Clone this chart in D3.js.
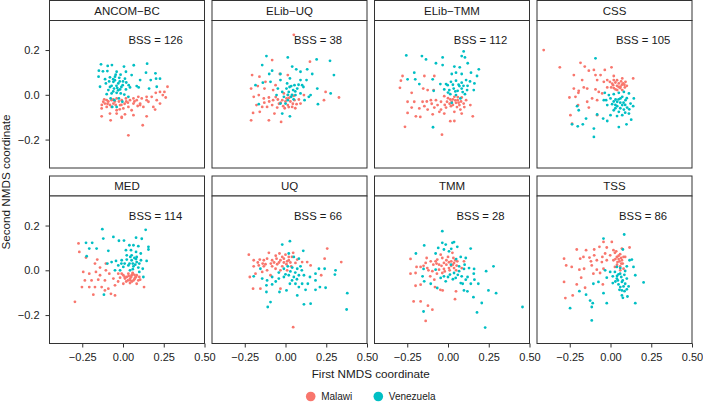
<!DOCTYPE html>
<html><head><meta charset="utf-8">
<script src="https://cdn.jsdelivr.net/npm/d3@7"></script>
<style>body{margin:0;background:#fff}svg{display:block;font-family:"Liberation Sans",Arial,sans-serif}</style>
</head><body><svg id="c" width="703" height="402"></svg>
<script>
const methods = ["ANCOM\u2212BC","ELib\u2212UQ","ELib\u2212TMM","CSS","MED","UQ","TMM","TSS"];
const bss = [126, 38, 112, 105, 114, 66, 28, 86];
const xTicks = [-0.25, 0, 0.25, 0.5];
const xTickLabels = ["\u22120.25","0.00","0.25","0.50"];
const yTicks = [-0.2, 0, 0.2];
const yTickLabels = ["\u22120.2","0.0","0.2"];
const groups = ["Malawi","Venezuela"];

const malawi_ANCOMBC = [[0.273,0.036],[0.254,0.013],[0.227,0.013],[0.201,0.009],[0.176,-0.009],[0.145,-0.009],[0.115,-0.016],[0.094,-0.009],[0.064,-0.016],[0.043,-0.024],[0.018,-0.016],[-0.008,-0.024],[-0.039,-0.016],[-0.07,-0.024],[-0.1,-0.024],[-0.121,-0.031],[-0.131,-0.061],[-0.1,-0.054],[-0.07,-0.054],[-0.039,-0.069],[0.002,-0.061],[0.033,-0.054],[0.064,-0.039],[0.105,-0.039],[0.145,-0.024],[0.186,-0.054],[0.227,-0.039],[0.262,-0.012],[0.197,-0.066],[0.156,-0.031],[-0.08,-0.084],[-0.039,-0.084],[-0.008,-0.099],[0.012,-0.087],[0.064,-0.091],[0.121,-0.136],[0.145,-0.096],[-0.131,-0.096],[-0.076,-0.114],[-0.008,-0.103],[0.033,-0.181],[0.105,-0.046],[0.084,-0.024],[0.053,-0.069],[-0.018,-0.046],[-0.059,-0.039],[-0.111,-0.039],[0.125,-0.054],[0.207,-0.024],[0.244,-0.001],[-0.09,-0.03],[-0.05,-0.03],[-0.08,-0.045],[0.02,-0.03],[-0.115,-0.02],[-0.095,-0.04],[-0.06,-0.02],[-0.045,-0.045],[-0.025,-0.03],[-0.01,-0.045],[0.01,-0.04],[0.03,-0.035],[-0.13,-0.045],[-0.02,-0.065],[0.07,-0.03],[0.09,-0.05]];
const venezuela_ANCOMBC = [[-0.135,0.136],[-0.094,0.129],[-0.068,0.133],[0.006,0.126],[0.066,0.132],[0.148,0.139],[-0.148,0.108],[-0.123,0.105],[-0.096,0.106],[-0.039,0.103],[0.018,0.103],[0.053,0.088],[0.199,0.096],[0.141,0.099],[-0.15,0.081],[-0.08,0.078],[-0.049,0.081],[-0.023,0.076],[0.012,0.072],[0.105,0.066],[0.17,0.066],[0.203,0.072],[0.227,0.072],[-0.141,0.036],[-0.105,0.051],[-0.059,0.058],[-0.029,0.051],[-0.002,0.043],[0.035,0.043],[0.084,0.039],[-0.09,0.021],[-0.055,0.028],[-0.018,0.024],[0.018,0.024],[0.043,0.033],[-0.1,0.003],[-0.07,0.006],[-0.039,0.009],[-0.014,0.006],[0.008,0.001],[0.033,-0.009],[0.096,0.033],[0.207,0.036],[0.16,0.028],[-0.076,-0.016],[-0.053,-0.024],[-0.025,-0.016],[-0.004,-0.031],[-0.039,-0.054],[-0.066,-0.054],[-0.06,0.07],[-0.04,0.04],[-0.02,0.06],[-0.07,0.04],[-0.03,0.02],[0.0,0.06],[-0.085,0.06],[-0.05,0.065],[-0.035,0.03],[-0.06,0.015],[-0.01,0.035],[-0.045,0.09],[-0.015,0.09],[-0.11,0.07],[0.02,0.055],[-0.08,0.035]];

const malawi_ELibUQ = [[0.051,0.268],[-0.082,0.155],[0.15,0.148],[-0.205,0.088],[-0.16,0.081],[-0.035,0.093],[0.014,0.088],[-0.211,0.028],[-0.17,0.039],[-0.129,0.028],[-0.076,0.021],[0.246,0.013],[0.328,-0.012],[-0.195,-0.009],[-0.164,-0.001],[-0.133,-0.016],[-0.102,-0.012],[-0.076,-0.024],[-0.047,-0.021],[-0.02,-0.024],[0.006,-0.016],[0.031,-0.009],[0.055,-0.024],[0.082,-0.021],[0.113,-0.001],[0.236,-0.024],[-0.178,-0.046],[-0.143,-0.054],[-0.113,-0.054],[-0.082,-0.046],[-0.051,-0.057],[-0.014,-0.051],[0.014,-0.046],[0.041,-0.054],[0.068,-0.042],[-0.199,-0.081],[-0.158,-0.076],[-0.068,-0.084],[-0.211,-0.114],[-0.102,-0.114],[-0.027,-0.121],[-0.123,0.058],[-0.061,0.043],[-0.01,0.006],[0.014,-0.001],[0.092,-0.039],[0.03,-0.03],[-0.03,-0.035],[0.05,-0.005],[-0.04,-0.04],[0.0,-0.03],[0.02,-0.055],[0.045,-0.04],[-0.06,-0.01],[-0.1,-0.03],[-0.13,-0.035],[0.06,-0.06],[-0.005,-0.06],[0.02,-0.015]];
const venezuela_ELibUQ = [[-0.117,0.173],[0.014,0.167],[0.191,0.158],[0.273,0.152],[-0.143,0.133],[-0.082,0.108],[0.041,0.126],[0.066,0.114],[0.133,0.114],[-0.1,0.093],[-0.031,0.093],[0.092,0.103],[0.164,0.093],[0.297,0.088],[-0.184,0.043],[-0.139,0.054],[-0.092,0.058],[-0.031,0.066],[0.027,0.073],[0.035,0.039],[0.055,0.043],[0.092,0.066],[0.129,0.066],[0.195,0.028],[0.277,0.006],[0.154,-0.001],[-0.055,-0.001],[-0.02,0.013],[0.006,0.028],[0.02,0.013],[0.047,0.021],[0.072,0.028],[0.092,0.006],[0.117,-0.024],[0.143,-0.009],[-0.01,-0.009],[0.014,-0.024],[0.035,-0.009],[0.061,-0.001],[-0.031,-0.039],[0.0,-0.039],[-0.02,-0.084],[0.027,-0.096],[0.199,-0.042],[-0.164,-0.042],[-0.047,0.028],[0.102,0.043],[0.01,0.051],[0.04,0.0],[0.06,0.015],[0.025,0.035],[0.08,0.045],[0.05,-0.02],[0.015,0.0],[0.11,0.035]];

const malawi_ELibTMM = [[-0.279,0.084],[-0.289,0.063],[-0.295,0.031],[-0.145,0.084],[-0.084,0.084],[-0.223,0.009],[-0.152,0.028],[-0.125,0.021],[-0.088,0.021],[-0.023,-0.006],[0.039,-0.009],[0.059,-0.024],[0.084,-0.012],[0.111,-0.024],[-0.248,-0.031],[-0.207,-0.031],[-0.156,-0.031],[-0.105,-0.024],[-0.074,-0.024],[-0.043,-0.031],[-0.006,-0.031],[0.023,-0.031],[0.049,-0.036],[0.096,-0.039],[0.137,-0.046],[-0.223,-0.057],[-0.176,-0.061],[-0.125,-0.066],[-0.084,-0.057],[-0.043,-0.066],[-0.012,-0.057],[0.018,-0.051],[0.076,-0.066],[-0.248,-0.081],[-0.197,-0.096],[-0.17,-0.099],[-0.094,-0.087],[-0.053,-0.076],[-0.023,-0.084],[0.039,-0.076],[0.084,-0.084],[0.152,-0.096],[0.014,-0.118],[0.039,-0.117],[-0.264,-0.143],[-0.037,-0.178],[-0.145,-0.051],[-0.064,-0.046],[0.014,-0.021],[0.07,-0.046],[0.03,-0.02],[0.06,-0.01],[0.0,-0.015],[0.01,-0.04],[0.045,-0.025],[0.065,-0.035],[0.08,-0.03],[0.03,-0.045],[-0.02,-0.045],[0.1,-0.055],[0.055,-0.055],[-0.1,-0.04],[-0.13,-0.03]];
const venezuela_ELibTMM = [[-0.256,0.176],[-0.16,0.173],[-0.135,0.158],[-0.033,0.167],[0.096,0.194],[0.084,0.173],[0.104,0.167],[-0.074,0.141],[-0.033,0.133],[0.039,0.126],[0.072,0.123],[0.121,0.141],[0.189,0.114],[-0.207,0.099],[-0.248,0.069],[-0.201,0.069],[-0.094,0.069],[0.023,0.093],[0.049,0.099],[0.084,0.093],[0.141,0.099],[0.178,0.084],[-0.176,0.048],[-0.047,0.048],[-0.012,0.048],[0.018,0.058],[0.049,0.063],[0.084,0.054],[0.111,0.066],[0.162,0.051],[-0.023,0.024],[0.008,0.021],[0.035,0.028],[0.059,0.018],[0.084,0.028],[0.117,0.021],[0.158,0.021],[0.014,0.003],[0.049,-0.001],[0.104,0.003],[0.023,-0.036],[0.076,-0.016],[-0.092,-0.145],[-0.088,0.018],[-0.002,0.043],[0.07,0.039],[0.03,0.045],[0.065,0.045],[0.095,0.04],[0.045,0.015],[0.09,0.012],[0.12,0.04],[0.135,0.06],[0.0,0.01]];

const malawi_CSS = [[-0.41,0.2],[-0.311,0.123],[-0.184,0.143],[-0.158,0.126],[-0.133,0.108],[-0.035,0.111],[0.006,0.123],[-0.225,0.088],[-0.174,0.066],[-0.092,0.088],[-0.061,0.088],[-0.082,0.066],[0.139,0.073],[-0.004,0.058],[0.02,0.066],[0.072,0.073],[0.092,0.058],[-0.225,0.028],[-0.195,0.018],[-0.164,0.033],[-0.143,0.028],[-0.092,0.024],[-0.072,0.013],[-0.02,0.033],[0.004,0.033],[0.031,0.024],[0.061,0.036],[0.088,0.033],[0.016,0.043],[0.051,0.051],[-0.252,-0.012],[-0.215,-0.009],[-0.197,0.009],[-0.113,-0.016],[-0.082,-0.024],[-0.051,0.006],[-0.143,-0.031],[-0.199,-0.046],[-0.133,-0.057],[-0.246,-0.091],[-0.236,-0.129],[-0.082,-0.091],[0.041,0.021],[0.072,0.021],[-0.02,0.066],[0.02,0.084],[0.078,0.051],[-0.102,0.111],[-0.041,0.058],[0.04,0.04],[0.06,0.03],[0.02,0.03],[0.03,0.055],[0.05,0.035],[0.07,0.045],[0.085,0.045],[0.01,0.05],[0.04,0.065],[0.065,0.06],[0.1,0.04]];
const venezuela_CSS = [[-0.092,0.163],[-0.035,0.009],[-0.01,-0.001],[0.02,0.003],[0.051,0.009],[0.082,0.013],[0.113,0.006],[0.143,-0.016],[-0.027,-0.024],[0.0,-0.016],[0.031,-0.021],[0.061,-0.016],[0.092,-0.024],[0.123,-0.039],[-0.02,-0.046],[0.01,-0.042],[0.041,-0.051],[0.072,-0.046],[0.102,-0.057],[0.139,-0.051],[0.02,-0.069],[0.051,-0.076],[0.082,-0.066],[0.113,-0.084],[0.072,-0.091],[0.127,-0.111],[0.098,-0.132],[0.051,-0.144],[-0.205,-0.051],[-0.195,-0.069],[-0.15,-0.106],[-0.17,-0.132],[-0.201,-0.141],[-0.236,-0.132],[-0.102,-0.151],[-0.102,-0.188],[-0.045,-0.106],[-0.02,-0.117],[-0.082,-0.088],[0.0,-0.091],[-0.041,-0.024],[0.041,-0.031],[0.072,-0.009],[0.06,-0.035],[0.03,-0.06],[0.09,-0.045],[0.02,-0.03],[0.05,-0.02],[0.08,-0.035],[0.1,-0.015],[0.03,-0.045],[0.06,-0.06],[0.09,-0.08],[0.04,-0.095],[0.115,-0.065]];

const malawi_MED = [[-0.273,0.12],[-0.268,0.082],[-0.227,0.057],[-0.158,0.048],[-0.172,0.03],[-0.105,0.03],[-0.141,0.012],[-0.244,-0.007],[-0.207,-0.015],[-0.166,-0.007],[-0.105,0.0],[-0.084,-0.015],[-0.029,-0.015],[0.002,-0.022],[0.033,-0.015],[0.059,-0.012],[0.084,-0.022],[-0.234,-0.045],[-0.193,-0.045],[-0.152,-0.042],[-0.111,-0.045],[-0.059,-0.037],[-0.018,-0.033],[0.012,-0.037],[0.043,-0.037],[0.074,-0.033],[0.105,-0.042],[-0.252,-0.075],[-0.207,-0.075],[-0.172,-0.075],[-0.131,-0.075],[-0.09,-0.082],[-0.049,-0.067],[0.002,-0.06],[0.043,-0.057],[0.084,-0.06],[0.129,-0.075],[-0.182,-0.109],[-0.074,-0.105],[-0.049,-0.112],[-0.295,-0.141],[-0.111,-0.09],[0.023,-0.03],[0.053,-0.022],[0.064,-0.045],[-0.008,-0.015],[0.094,-0.045],[-0.141,-0.022],[0.05,-0.03],[0.07,-0.02],[0.03,-0.045],[0.01,-0.03],[0.035,-0.025],[0.045,-0.045],[0.07,-0.04],[0.08,-0.03],[0.055,-0.05],[0.02,-0.05],[0.1,-0.03],[-0.03,-0.05],[0.06,-0.015]];
const venezuela_MED = [[-0.127,0.184],[0.139,0.181],[-0.059,0.149],[0.006,0.133],[-0.121,0.142],[-0.227,0.123],[-0.189,0.123],[0.08,0.146],[0.115,0.141],[-0.025,0.132],[0.039,0.112],[0.064,0.112],[0.094,0.108],[0.156,0.105],[0.156,0.093],[-0.207,0.097],[-0.162,0.097],[-0.09,0.087],[0.018,0.09],[0.049,0.09],[0.08,0.082],[0.023,0.067],[0.053,0.067],[0.084,0.06],[0.109,0.075],[-0.043,0.042],[-0.008,0.045],[0.023,0.048],[0.053,0.045],[0.084,0.037],[0.145,0.042],[-0.029,0.022],[0.002,0.015],[0.033,0.022],[0.064,0.018],[0.094,0.012],[0.121,0.007],[-0.018,0.0],[0.043,0.0],[0.1,-0.007],[0.125,-0.03],[-0.223,0.063],[-0.117,-0.109],[-0.07,0.037],[-0.049,0.0],[-0.096,0.03],[0.06,0.03],[0.07,0.055],[0.01,0.03],[0.04,0.03],[0.075,0.025],[0.1,0.03],[0.045,0.06],[0.08,0.05],[0.11,0.045],[0.06,0.005],[-0.01,0.03]];

const malawi_UQ = [[0.256,0.097],[-0.225,0.07],[-0.102,0.078],[-0.037,0.075],[0.0,0.07],[0.047,0.078],[-0.195,0.045],[-0.158,0.048],[-0.133,0.045],[-0.113,0.052],[-0.082,0.045],[-0.055,0.052],[-0.031,0.045],[-0.01,0.052],[0.02,0.045],[0.072,0.048],[0.102,0.037],[0.133,0.037],[0.24,0.052],[0.342,0.037],[-0.195,0.018],[-0.164,0.022],[-0.123,0.027],[-0.082,0.018],[-0.051,0.027],[-0.02,0.018],[0.006,0.027],[0.035,0.018],[0.154,0.022],[-0.219,-0.03],[-0.184,-0.015],[-0.143,-0.007],[-0.092,-0.022],[-0.031,0.0],[0.01,0.0],[-0.199,-0.082],[-0.154,-0.082],[-0.031,-0.082],[0.219,-0.022],[0.047,-0.254],[-0.061,0.007],[-0.113,0.0],[-0.133,0.018],[0.061,0.033],[-0.01,0.035],[0.02,0.06],[-0.07,0.035],[-0.14,0.03],[-0.09,0.03],[-0.04,0.035],[-0.02,0.06],[0.01,0.04],[0.04,0.06],[-0.17,0.035],[-0.06,0.065],[0.03,0.035]];
const venezuela_UQ = [[-0.02,0.115],[0.027,0.13],[0.109,0.087],[0.02,0.075],[0.051,0.06],[0.082,0.052],[-0.195,-0.027],[-0.154,0.007],[-0.041,-0.01],[-0.01,0.007],[0.014,0.018],[0.041,0.012],[0.072,0.007],[0.092,0.018],[0.205,0.007],[0.24,0.007],[0.307,0.0],[0.303,-0.019],[-0.143,-0.037],[-0.113,-0.045],[-0.082,-0.03],[-0.01,-0.03],[0.02,-0.022],[0.051,-0.03],[0.082,-0.022],[0.113,-0.022],[0.184,-0.015],[-0.117,-0.067],[-0.082,-0.063],[-0.041,-0.037],[0.027,-0.06],[0.061,-0.06],[0.102,-0.06],[0.137,-0.06],[0.184,-0.045],[0.246,-0.078],[-0.117,-0.097],[-0.092,-0.142],[-0.109,-0.164],[-0.037,-0.097],[0.006,-0.09],[0.082,-0.075],[0.123,-0.087],[0.184,-0.087],[0.211,-0.075],[0.113,-0.152],[0.154,-0.149],[0.072,-0.112],[0.379,-0.102],[0.375,-0.175],[0.0,-0.018],[0.03,-0.005],[0.06,-0.01],[0.1,0.0],[0.04,-0.045],[0.07,-0.04],[0.15,-0.03],[-0.06,-0.05]];

const malawi_TMM = [[-0.23,0.051],[-0.131,0.055],[-0.106,0.04],[-0.193,0.015],[-0.168,0.015],[-0.23,-0.015],[-0.199,-0.012],[-0.127,0.01],[-0.09,0.025],[-0.066,0.048],[-0.035,0.055],[0.0,0.06],[0.033,0.055],[-0.055,0.025],[-0.025,0.033],[0.006,0.036],[0.037,0.033],[0.057,0.04],[0.098,0.04],[-0.096,-0.004],[-0.055,0.003],[-0.025,0.006],[0.006,0.01],[0.037,0.01],[-0.109,-0.027],[-0.068,-0.015],[-0.035,-0.012],[-0.199,-0.069],[-0.168,-0.064],[-0.08,-0.075],[-0.047,-0.087],[-0.033,-0.09],[0.049,-0.094],[0.043,-0.129],[-0.211,-0.139],[-0.168,-0.139],[-0.123,-0.158],[-0.096,-0.176],[-0.137,-0.226],[-0.137,0.033],[-0.076,0.04],[-0.045,0.07],[0.027,0.078],[-0.084,-0.042],[0.084,0.01],[0.053,0.021],[0.02,0.02],[-0.01,0.045],[0.045,0.045],[-0.04,0.02],[-0.01,0.025],[0.02,0.04],[0.01,0.0],[-0.02,-0.005],[0.03,0.025],[-0.07,0.03],[0.05,0.0],[-0.12,0.0],[-0.15,0.02]];
const venezuela_TMM = [[-0.035,0.175],[-0.146,0.111],[-0.197,0.075],[-0.035,0.123],[-0.014,0.115],[0.027,0.123],[0.037,0.126],[0.057,0.105],[0.139,0.097],[-0.076,0.075],[-0.025,0.093],[0.006,0.085],[0.02,0.096],[0.078,0.06],[0.109,0.055],[-0.15,0.006],[-0.156,-0.027],[-0.146,-0.049],[-0.076,0.003],[-0.045,-0.034],[-0.025,-0.027],[0.012,-0.019],[0.037,-0.012],[0.068,-0.004],[0.098,0.006],[0.16,0.006],[0.102,0.025],[0.129,0.01],[-0.106,-0.06],[-0.066,-0.079],[-0.014,-0.049],[0.047,-0.034],[0.078,-0.057],[0.109,-0.042],[0.084,-0.027],[0.158,-0.015],[0.162,-0.042],[0.186,-0.06],[0.098,-0.09],[0.119,-0.094],[0.156,-0.12],[0.207,-0.146],[0.178,-0.188],[0.248,-0.09],[0.295,-0.102],[0.279,0.018],[0.234,-0.004],[-0.15,-0.184],[0.228,-0.256],[0.457,-0.164],[0.018,0.025],[0.068,0.018],[0.0,-0.03],[0.03,-0.04],[0.06,-0.02],[0.12,-0.03],[0.14,-0.06],[0.09,-0.06],[0.05,0.05],[-0.06,0.1]];

const malawi_TSS = [[-0.043,0.127],[0.008,0.127],[-0.207,0.093],[-0.15,0.09],[-0.1,0.093],[-0.068,0.105],[-0.023,0.102],[0.07,0.097],[0.117,0.102],[-0.285,0.052],[-0.186,0.052],[-0.166,0.06],[-0.129,0.057],[-0.1,0.067],[-0.033,0.075],[-0.002,0.067],[0.027,0.078],[0.059,0.072],[0.09,0.06],[-0.272,0.022],[-0.238,0.015],[-0.115,0.022],[-0.053,0.037],[-0.023,0.045],[0.018,0.045],[0.043,0.037],[0.07,0.045],[-0.191,0.003],[-0.162,0.007],[-0.084,0.003],[-0.043,0.007],[0.027,0.015],[0.059,0.018],[0.08,0.007],[-0.105,-0.015],[-0.064,-0.012],[-0.18,-0.033],[-0.285,-0.052],[-0.207,-0.063],[-0.156,-0.078],[-0.047,-0.063],[-0.277,-0.124],[-0.232,-0.112],[0.039,0.06],[0.018,0.09],[0.066,0.03],[-0.084,0.045],[0.05,0.05],[0.06,0.0],[0.04,0.025],[0.05,0.065],[0.065,0.055],[0.03,0.05],[0.075,0.03],[0.035,0.085],[0.055,0.04],[0.08,0.06],[-0.05,0.06],[-0.12,0.04]];
const venezuela_TSS = [[0.084,0.16],[-0.043,0.142],[0.076,0.093],[0.131,0.048],[0.117,0.045],[0.1,0.018],[0.141,0.015],[-0.033,0.0],[-0.002,-0.007],[0.027,-0.007],[0.059,-0.015],[0.09,-0.003],[-0.023,-0.033],[0.014,-0.027],[0.039,-0.037],[0.066,-0.03],[0.1,-0.037],[0.152,-0.022],[0.203,-0.054],[-0.105,-0.06],[-0.074,-0.052],[0.014,-0.057],[0.049,-0.063],[0.08,-0.072],[0.111,-0.072],[0.055,-0.087],[0.086,-0.093],[0.07,-0.112],[0.104,-0.117],[0.076,-0.123],[-0.191,-0.093],[-0.15,-0.109],[-0.125,-0.135],[-0.109,-0.147],[-0.043,-0.102],[-0.023,-0.147],[0.152,-0.147],[-0.248,-0.169],[-0.115,-0.224],[-0.115,-0.164],[0.039,0.015],[0.049,-0.018],[0.07,-0.052],[0.06,0.01],[0.04,-0.025],[0.075,-0.045],[0.09,-0.06],[0.06,-0.075],[0.07,-0.09],[0.085,-0.02],[0.045,-0.045],[0.1,-0.085],[0.03,-0.05]];

const malawiSeries = [malawi_ANCOMBC, malawi_ELibUQ, malawi_ELibTMM, malawi_CSS, malawi_MED, malawi_UQ, malawi_TMM, malawi_TSS];
const venezuelaSeries = [venezuela_ANCOMBC, venezuela_ELibUQ, venezuela_ELibTMM, venezuela_CSS, venezuela_MED, venezuela_UQ, venezuela_TMM, venezuela_TSS];

const colors = d3.scaleOrdinal().domain(groups).range(["#F8766D","#00BFC4"]);

const marginLeft = 49.5, marginTop = 0.5, panelW = 155, panelH = 147.5, stripH = 20, gapX = 7.5, gapY = 8;
const x = d3.scaleLinear().domain([-0.451, 0.5]).range([0, panelW]);
const y = d3.scaleLinear().domain([-0.327, 0.332]).range([panelH, 0]);
const svg = d3.select("#c");
const border = "#333333";
const ff = "Liberation Sans, Arial, sans-serif";

methods.forEach((m, i) => {
  const col = i % 4, row = Math.floor(i / 4);
  const px = marginLeft + col * (panelW + gapX);
  const sy = marginTop + row * (stripH + panelH + gapY);
  const py = sy + stripH;
  svg.append("rect").attr("x", px).attr("y", sy).attr("width", panelW).attr("height", stripH)
    .attr("fill", "#fff").attr("stroke", border).attr("stroke-width", 1);
  svg.append("text").attr("x", px + panelW / 2).attr("y", sy + stripH / 2).attr("dy", "0.36em")
    .attr("text-anchor", "middle").attr("font-size", 11.5).attr("fill", "#1a1a1a").text(m);
  const g = svg.append("g").attr("transform", `translate(${px},${py})`);
  g.append("rect").attr("width", panelW).attr("height", panelH).attr("fill", "#fff");
  const pts = [];
  malawiSeries[i].forEach(d => pts.push({x: d[0], y: d[1], grp: "Malawi"}));
  venezuelaSeries[i].forEach(d => pts.push({x: d[0], y: d[1], grp: "Venezuela"}));
  g.selectAll("circle.pt").data(pts).enter().append("circle").attr("class", "pt")
    .attr("cx", d => x(d.x)).attr("cy", d => y(d.y)).attr("r", 1.4)
    .attr("fill", d => colors(d.grp));
  g.append("text").attr("x", x(0.2)).attr("y", y(0.245)).attr("dy", "0.36em")
    .attr("text-anchor", "middle").attr("font-size", 11.3).attr("fill", "#1a1a1a")
    .text("BSS = " + bss[i]);
  g.append("rect").attr("width", panelW).attr("height", panelH).attr("fill", "none")
    .attr("stroke", border).attr("stroke-width", 1);
  if (col === 0) {
    const ya = g.append("g").call(d3.axisLeft(y).tickValues(yTicks).tickSize(4).tickPadding(6)
      .tickFormat((d, k) => yTickLabels[k]));
    ya.select(".domain").remove();
    ya.selectAll("line").attr("stroke", border);
    ya.selectAll("text").attr("font-size", 11).attr("fill", "#222").attr("font-family", ff);
  }
  if (row === 1) {
    const xa = g.append("g").attr("transform", `translate(0,${panelH})`)
      .call(d3.axisBottom(x).tickValues(xTicks).tickSize(4).tickPadding(6)
      .tickFormat((d, k) => xTickLabels[k]));
    xa.select(".domain").remove();
    xa.selectAll("line").attr("stroke", border);
    xa.selectAll("text").attr("font-size", 11).attr("fill", "#222").attr("font-family", ff);
  }
});

const plotRight = marginLeft + 4 * panelW + 3 * gapX;
svg.append("text").attr("x", (marginLeft + plotRight) / 2).attr("y", 374).attr("dy", "0.36em")
  .attr("text-anchor", "middle").attr("font-size", 11.7).attr("fill", "#1a1a1a").text("First NMDS coordinate");
svg.append("text").attr("transform", "translate(10,182) rotate(-90)")
  .attr("text-anchor", "middle").attr("font-size", 11.7).attr("fill", "#1a1a1a").text("Second NMDS coordinate");

const legX = [310.7, 378.3];
groups.forEach((gname, k) => {
  svg.append("circle").attr("cx", legX[k]).attr("cy", 396.5).attr("r", 4.8).attr("fill", colors(gname));
  svg.append("text").attr("x", legX[k] + 10.5).attr("y", 396.5).attr("dy", "0.36em")
    .attr("font-size", 10).attr("fill", "#1a1a1a").text(gname);
});
</script></body></html>
